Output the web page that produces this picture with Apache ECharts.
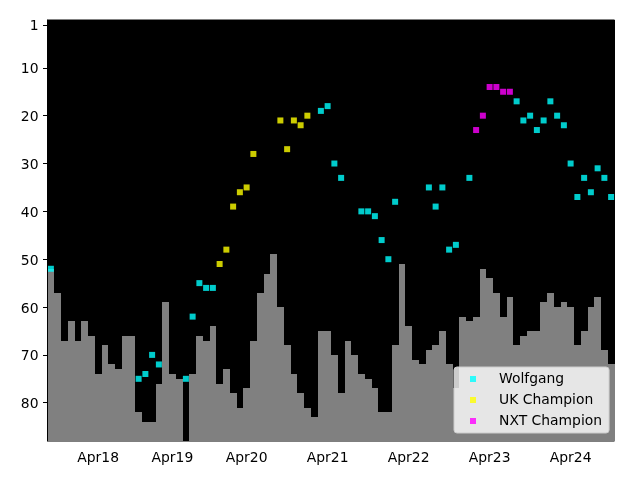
<!DOCTYPE html>
<html><head><meta charset="utf-8">
<script src="https://cdn.jsdelivr.net/npm/echarts@6/dist/echarts.min.js"></script>
<style>html,body{margin:0;padding:0;background:#fff}#c{width:640px;height:480px}</style>
</head><body><div id="c"></div>
<script>
const N = null;
// one entry per period (84 periods)
const rankBars = [
  52,57,67,63,67,63,66,74,68,72,73,66,
  66,82,84,84,76,59,74,75,N,74,66,67,
  64,76,73,78,81,77,67,57,53,49,60,68,
  74,78,81,83,65,65,70,78,67,70,74,75,
  77,82,82,68,51,64,71,72,69,68,65,72,
  77,62,63,62,52,54,57,62,58,68,66,65,
  65,59,57,60,59,60,68,65,60,58,69,72
];
const wolfgang = [
  52,N,N,N,N,N,N,N,N,N,N,N,
  N,75,74,70,72,N,N,N,75,62,55,56,
  56,N,N,N,N,N,N,N,N,N,N,N,
  N,N,N,N,19,18,30,33,N,N,40,40,
  41,46,50,38,N,N,N,N,35,39,35,48,
  47,N,33,N,N,N,N,N,N,17,21,20,
  23,21,17,20,22,30,37,33,36,31,33,37
];
const ukChampion = [
  N,N,N,N,N,N,N,N,N,N,N,N,
  N,N,N,N,N,N,N,N,N,N,N,N,
  N,51,48,39,36,35,28,N,N,N,21,27,
  21,22,20,N,N,N,N,N,N,N,N,N,
  N,N,N,N,N,N,N,N,N,N,N,N,
  N,N,N,N,N,N,N,N,N,N,N,N,
  N,N,N,N,N,N,N,N,N,N,N,N
];
const nxtChampion = [
  N,N,N,N,N,N,N,N,N,N,N,N,
  N,N,N,N,N,N,N,N,N,N,N,N,
  N,N,N,N,N,N,N,N,N,N,N,N,
  N,N,N,N,N,N,N,N,N,N,N,N,
  N,N,N,N,N,N,N,N,N,N,N,N,
  N,N,N,23,20,14,14,15,15,N,N,N,
  N,N,N,N,N,N,N,N,N,N,N,N
];
const tickLabelIndex = [7, 18, 29, 41, 53, 65, 77];
const tickLabelText = ['Apr18','Apr19','Apr20','Apr21','Apr22','Apr23','Apr24'];
const yTicks = [1,10,20,30,40,50,60,70,80];
const yMin = 0, yMax = 88;

const categories = rankBars.map((_, i) => String(i));
const pairs = arr => arr.map((v, i) => v == null ? null : [i, v]).filter(p => p);
const FONT = 'DejaVu Sans';
const FS = 13.9;

const chart = echarts.init(document.getElementById('c'), null, {renderer: 'canvas'});
chart.setOption({
  animation: false,
  backgroundColor: '#ffffff',
  grid: {left: 47.5, right: 25.5, top: 20, bottom: 39, show: true, backgroundColor: '#000000', borderColor: '#000000', borderWidth: 1},
  xAxis: {
    type: 'category', data: categories, boundaryGap: true, z: 10,
    axisLine: {show: true, lineStyle: {color: '#000', width: 1}},
    axisTick: {show: true, alignWithLabel: true, interval: 0, length: 4, lineStyle: {color: '#000'}},
    axisLabel: {
      interval: (idx) => tickLabelIndex.indexOf(idx) >= 0,
      formatter: (val, idx) => { const k = tickLabelIndex.indexOf(idx); return k >= 0 ? tickLabelText[k] : ''; },
      color: '#000', fontFamily: FONT, fontSize: FS, margin: 10
    },
    splitLine: {show: false}
  },
  yAxis: {
    type: 'value', inverse: true, min: yMin, max: yMax, z: 10,
    axisLine: {show: true, lineStyle: {color: '#000', width: 1}},
    axisTick: {show: true, length: 4.5, customValues: yTicks, lineStyle: {color: '#000'}},
    axisLabel: {
      customValues: yTicks, margin: 9,
      formatter: v => '{a|' + v + '}',
      rich: {a: {color: '#000', fontFamily: FONT, fontSize: FS, padding: [4, 0, 0, 0]}}
    },
    splitLine: {show: false}
  },
  legend: {
    orient: 'vertical', left: 454, top: 367,
    data: ['Wolfgang', 'UK Champion', 'NXT Champion'],
    icon: 'rect', itemWidth: 6, itemHeight: 6, itemGap: 7,
    padding: [5, 7, 5, 16],
    backgroundColor: 'rgba(255,255,255,0.8)', borderColor: '#cccccc', borderWidth: 1, borderRadius: 3,
    textStyle: {fontFamily: FONT, fontSize: FS, color: '#000', padding: [0, 0, 0, 18], lineHeight: 14}
  },
  series: [
    {
      type: 'custom', name: 'rank', z: 1,
      data: pairs(rankBars),
      encode: {x: 0, y: 1},
      renderItem: (params, api) => {
        const i = api.value(0), v = api.value(1);
        const p = api.coord([i, v]);
        const b = api.coord([i, yMax]);
        const w = api.size([1, 0])[0];
        const x0 = Math.round(p[0] - w / 2), x1 = Math.round(p[0] + w / 2);
        const y0 = Math.round(p[1]);
        return {type: 'rect', shape: {x: x0, y: y0, width: x1 - x0, height: b[1] - y0},
                style: {fill: '#808080'}};
      }
    },
    {type: 'scatter', name: 'Wolfgang', z: 3, symbol: 'rect', symbolSize: 6, itemStyle: {color: '#00ffff'}, data: pairs(wolfgang)},
    {type: 'scatter', name: 'UK Champion', z: 3, symbol: 'rect', symbolSize: 6, itemStyle: {color: '#ffff00'}, data: pairs(ukChampion)},
    {type: 'scatter', name: 'NXT Champion', z: 3, symbol: 'rect', symbolSize: 6, itemStyle: {color: '#ff00ff'}, data: pairs(nxtChampion)}
  ]
});
</script>
</body></html>
